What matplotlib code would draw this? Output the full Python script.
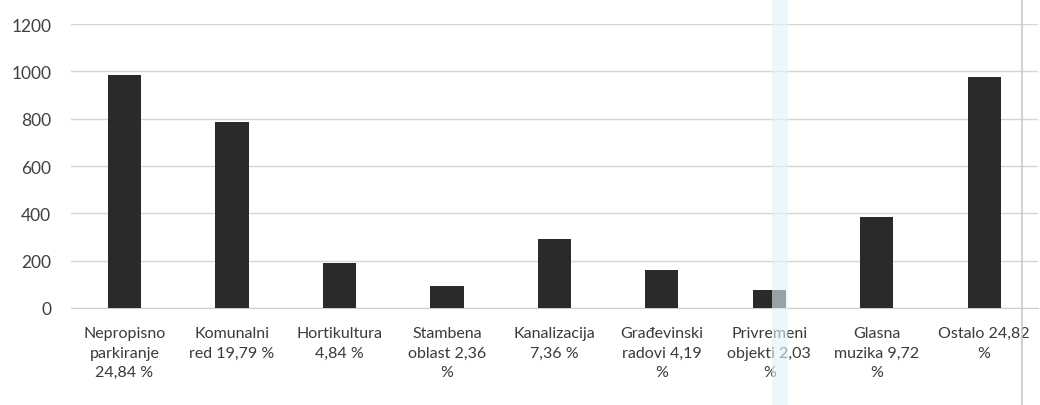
import matplotlib
matplotlib.use("Agg")
import matplotlib.pyplot as plt
from matplotlib.patches import Rectangle

categories = ["Nepropisno\nparkiranje\n24,84 %", "Komunalni\nred 19,79 %", "Hortikultura\n4,84 %",
              "Stambena\noblast 2,36\n%", "Kanalizacija\n7,36 %", "Građevinski\nradovi 4,19\n%",
              "Privremeni\nobjekti 2,03\n%", "Glasna\nmuzika 9,72\n%", "Ostalo 24,82\n%"]
values = [984, 785, 191, 93, 290, 162, 76, 383, 978]
yticks = [0, 200, 400, 600, 800, 1000, 1200]

plt.rcParams['font.family'] = ['Lato', 'DejaVu Sans']

fig = plt.figure(figsize=(10.4, 4.06), dpi=100)
ax = fig.add_axes([0.068, 0.239, 0.93, 0.699])

x = list(range(len(categories)))
ax.bar(x, values, width=0.31, color="#2a2a2a", zorder=3)
ax.set_xlim(-0.5, len(categories) - 0.5)
ax.set_ylim(0, 1200)
ax.set_yticks(yticks)
ax.set_yticklabels([str(t) for t in yticks], fontsize=12.5, color="#404040")
ax.set_xticks(x)
ax.set_xticklabels(categories, fontsize=11.5, color="#3a3a3a", linespacing=1.5, va="top")
ax.tick_params(axis="x", length=0, pad=13)
ax.tick_params(axis="y", length=0, pad=14)
ax.grid(axis="y", color="#d6d6d6", linewidth=1, zorder=0)
for s in ["top", "right", "left"]:
    ax.spines[s].set_visible(False)
ax.spines["bottom"].set_color("#cfcfcf")

# scan artifacts: faint cyan band and thin gray vertical line
fig.patches.append(Rectangle((0.742, 0.0), 0.016, 1.0, transform=fig.transFigure,
                             facecolor="#dff3f8", alpha=0.6, zorder=5))
fig.patches.append(Rectangle((0.982, 0.0), 0.0015, 1.0, transform=fig.transFigure,
                             facecolor="#c8c8c8", alpha=0.8, zorder=5))

fig.savefig("out.png", dpi=100)
